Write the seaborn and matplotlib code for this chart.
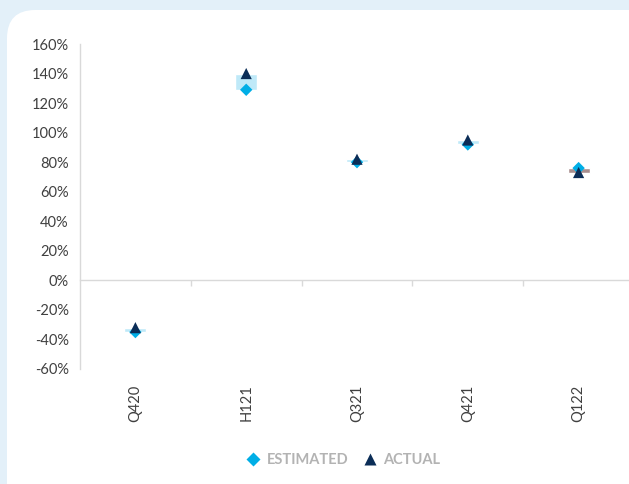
import numpy as np
import pandas as pd
import matplotlib
matplotlib.use("Agg")
import matplotlib.pyplot as plt
import seaborn as sns
from matplotlib.patches import FancyBboxPatch
from matplotlib.ticker import PercentFormatter, MultipleLocator
from matplotlib.lines import Line2D

# Estimated vs actual, per period (percent)
periods = ["Q420", "H121", "Q321", "Q421", "Q122"]
estimated = [-35, 129, 80, 92, 76]
actual = [-32, 140, 82, 95, 73]

df = pd.DataFrame({"period": periods, "estimated": estimated, "actual": actual})
df["x"] = np.arange(len(df))

sns.set_style("white")
plt.rcParams["font.family"] = ["Lato", "DejaVu Sans"]
plt.rcParams["axes.unicode_minus"] = False

fig = plt.figure(figsize=(6.29, 4.84), dpi=100)
fig.patch.set_facecolor("#e3f0f9")

# white card behind the chart
card = FancyBboxPatch((7 / 629, -0.1), 1.1, (474 / 484) + 0.1,
                      boxstyle="round,pad=0,rounding_size=0.045",
                      transform=fig.transFigure, facecolor="white",
                      edgecolor="none", zorder=-10, mutation_aspect=629 / 484)
fig.patches.append(card)

ax = fig.add_axes([80 / 629, 115 / 484, 554 / 629, 325 / 484])
ax.set_facecolor("none")
ax.set_zorder(5)

# floating up/down bars between estimate and actual
up = df["actual"] >= df["estimated"]
bar_colors = np.where(up, "#bfe9f8", "#a88e8e")
ax.bar(df["x"], (df["actual"] - df["estimated"]).abs(),
       bottom=df[["actual", "estimated"]].min(axis=1),
       width=0.2, color=bar_colors, zorder=2)

sns.scatterplot(data=df, x="x", y="estimated", marker="D", s=40,
                color="#00aee6", edgecolor="none", ax=ax, zorder=3, legend=False)
sns.scatterplot(data=df, x="x", y="actual", marker="^", s=65,
                color="#0b2d57", edgecolor="none", ax=ax, zorder=4, legend=False)

ax.set_xlim(-0.5, len(df) - 0.5)
ax.set_ylim(-60, 160)
ax.yaxis.set_major_locator(MultipleLocator(20))
ax.yaxis.set_major_formatter(PercentFormatter(decimals=0))
ax.set_xlabel("")
ax.set_ylabel("")

for side in ["top", "right", "bottom"]:
    ax.spines[side].set_visible(False)
ax.spines["left"].set_color("#d9d9d9")
ax.spines["left"].set_linewidth(1.0)

ax.tick_params(axis="y", length=4, width=1, color="#d9d9d9",
               labelsize=10.5, labelcolor="#404040", pad=4)
ax.set_xticks(df["x"])
ax.set_xticklabels(df["period"], rotation=90)
ax.tick_params(axis="x", length=0, labelsize=10.5, labelcolor="#404040", pad=11)

# category axis drawn along the 0% line
zero_axis = ax.secondary_xaxis(0, transform=ax.transData)
zero_axis.set_xticks(df["x"][:-1] + 0.5)
zero_axis.set_xticklabels([])
zero_axis.tick_params(length=4, width=1, color="#d9d9d9")
zero_axis.spines["bottom"].set_color("#d9d9d9")
zero_axis.spines["bottom"].set_linewidth(1.0)

handles = [
    Line2D([], [], marker="D", linestyle="none", markersize=7.5,
           markerfacecolor="#00aee6", markeredgecolor="none", label="ESTIMATED"),
    Line2D([], [], marker="^", linestyle="none", markersize=8,
           markerfacecolor="#0b2d57", markeredgecolor="none", label="ACTUAL"),
]
leg = fig.legend(handles=handles, loc="center", bbox_to_anchor=(343 / 629, 1 - 460 / 484),
                 ncol=2, frameon=False, handletextpad=0.4, columnspacing=1.0,
                 handlelength=1.0, prop={"weight": "bold", "size": 10.5})
for t in leg.get_texts():
    t.set_color("#b3b3b3")

fig.savefig("out.png", dpi=100, facecolor=fig.get_facecolor())
